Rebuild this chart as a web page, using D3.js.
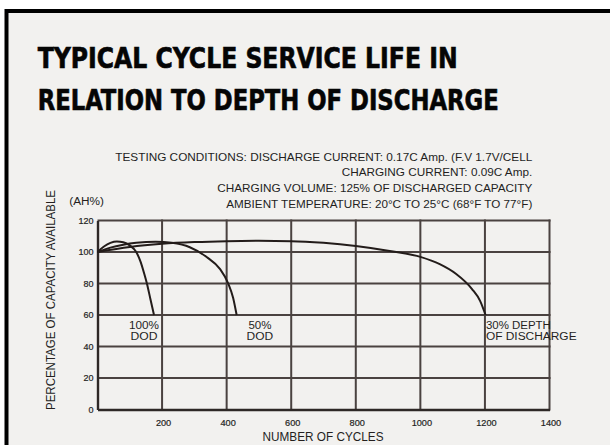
<!DOCTYPE html>
<html>
<head>
<meta charset="utf-8">
<script src="https://cdn.jsdelivr.net/npm/d3@7/dist/d3.min.js"></script>
<style>
  html, body { margin: 0; padding: 0; background: #ffffff; }
  svg { display: block; }
</style>
</head>
<body>
<svg id="chart" width="610" height="445"></svg>
<script>
// ---------- data ----------
const titleLines = ["TYPICAL CYCLE SERVICE LIFE IN", "RELATION TO DEPTH OF DISCHARGE"];
const conditionLines = [
  "TESTING CONDITIONS: DISCHARGE CURRENT: 0.17C Amp. (F.V 1.7V/CELL",
  "CHARGING CURRENT: 0.09C Amp.",
  "CHARGING VOLUME: 125% OF DISCHARGED CAPACITY",
  "AMBIENT TEMPERATURE: 20°C TO 25°C (68°F TO 77°F)"
];
const xTicks = [200, 400, 600, 800, 1000, 1200, 1400];
const yTicks = [0, 20, 40, 60, 80, 100, 120];
const yUnit = "(AH%)";
const yTitle = "PERCENTAGE OF CAPACITY AVAILABLE";
const xTitle = "NUMBER OF CYCLES";

const dod100 = [[0,100],[20,103.5],[40,105.8],[60,106.7],[80,106.2],[100,104.2],[120,100],[133,94],[145,86],[153,80],[164,70],[175,60]];
const dod50  = [[0,100],[40,102.8],[80,104.6],[120,105.8],[180,106.5],[230,105.8],[286,103],[338,96.8],[379,89.3],[405,80],[420,71],[431,60]];
const dod30  = [[0,100],[100,103.2],[200,105.2],[300,106.3],[400,106.9],[500,107.1],[600,106.9],[700,105.8],[800,103.8],[900,100.8],[1000,96.9],[1060,92.3],[1110,86.2],[1160,76.5],[1185,69],[1202,60]];
const seriesLabels = [["100%", "DOD"], ["50%", "DOD"], ["30% DEPTH", "OF DISCHARGE"]];

// ---------- drawing ----------
const svg = d3.select("#chart");
const W = 610, H = 445;

// outer panel
svg.append("rect").attr("x", 0).attr("y", 0).attr("width", W).attr("height", H).attr("fill", "#ffffff");
svg.append("rect").attr("x", 4.5).attr("y", 9).attr("width", W - 4.5).attr("height", H - 9).attr("fill", "#000");
svg.append("rect").attr("x", 8.5).attr("y", 13).attr("width", W - 8.5).attr("height", H - 13).attr("fill", "#f2f1ef");

// title
const tFont = "'Liberation Sans Narrow','DejaVu Sans Condensed','Arial Narrow',sans-serif";
const titleWidths = [420, 461];
const titleBase = [68, 109.7];
titleLines.forEach((t, i) => {
  svg.append("text")
    .attr("x", 37.7).attr("y", titleBase[i])
    .attr("font-family", tFont).attr("font-weight", "bold").attr("font-size", 29)
    .attr("fill", "#050505").attr("stroke", "#050505").attr("stroke-width", 0.6)
    .attr("textLength", titleWidths[i]).attr("lengthAdjust", "spacingAndGlyphs")
    .text(t);
});

// scales
const xS = d3.scaleLinear().domain([0, 1400]).range([97.5, 549.5]);
const yS = d3.scaleLinear().domain([0, 120]).range([409.5, 220.5]);

const textCol = "#241f1e";
const sFont = "'Liberation Sans','Arial',sans-serif";

// testing conditions
const condWidths = [417, 190.6, 315, 306];
const condBase = [160.5, 176, 192, 208];
conditionLines.forEach((t, i) => {
  svg.append("text")
    .attr("x", 532.3).attr("y", condBase[i]).attr("text-anchor", "end")
    .attr("font-family", sFont).attr("font-size", 11.5).attr("fill", textCol)
    .attr("textLength", condWidths[i]).attr("lengthAdjust", "spacingAndGlyphs")
    .text(t);
});

// gridlines drawn as thin filled rects
const gridCol = "#4a4240";
const gw = 2;
const grid = svg.append("g");
grid.selectAll("rect.vg").data(xTicks).enter().append("rect").attr("class", "vg")
  .attr("x", d => xS(d) - gw / 2).attr("y", yS(120) - gw / 2)
  .attr("width", gw).attr("height", yS(0) - yS(120) + gw)
  .attr("fill", gridCol);
grid.selectAll("rect.hg").data(yTicks.filter(v => v > 0)).enter().append("rect").attr("class", "hg")
  .attr("x", xS(0)).attr("y", d => yS(d) - gw / 2)
  .attr("width", xS(1400) - xS(0) + gw / 2).attr("height", gw)
  .attr("fill", gridCol);

// axes
const yAxis = d3.axisLeft(yS).tickValues(yTicks).tickSize(0).tickPadding(4).tickFormat(d3.format("d"));
const yA = svg.append("g").attr("transform", `translate(${xS(0)},0)`).call(yAxis);
yA.select(".domain").attr("stroke", "#2e2826").attr("stroke-width", 2.4);
yA.selectAll("text").attr("font-family", sFont).attr("font-size", 9).attr("fill", textCol)
  .attr("stroke", textCol).attr("stroke-width", 0.2);

const xAxis = d3.axisBottom(xS).tickValues(xTicks).tickSize(0).tickPadding(9.5).tickFormat(d3.format("d"));
const xA = svg.append("g").attr("transform", `translate(0,${yS(0)})`).call(xAxis);
xA.select(".domain").attr("stroke", "#2e2826").attr("stroke-width", 2.4);
xA.selectAll("text").attr("font-family", sFont).attr("font-size", 9.2).attr("fill", textCol)
  .attr("stroke", textCol).attr("stroke-width", 0.2).attr("dx", 1);

// axis titles
svg.append("text").attr("x", 69.3).attr("y", 205)
  .attr("font-family", sFont).attr("font-size", 10).attr("fill", textCol)
  .attr("textLength", 34.7).attr("lengthAdjust", "spacingAndGlyphs").text(yUnit);

svg.append("text")
  .attr("transform", "translate(55,410) rotate(-90)")
  .attr("font-family", sFont).attr("font-size", 13).attr("fill", textCol)
  .attr("textLength", 220).attr("lengthAdjust", "spacingAndGlyphs").text(yTitle);

svg.append("text").attr("x", 323).attr("y", 440.5).attr("text-anchor", "middle")
  .attr("font-family", sFont).attr("font-size", 13).attr("fill", textCol)
  .attr("textLength", 121).attr("lengthAdjust", "spacingAndGlyphs").text(xTitle);

// curves
const lineGen = d3.line().x(d => xS(d[0])).y(d => yS(d[1])).curve(d3.curveMonotoneX);
[dod100, dod50, dod30].forEach(s => {
  svg.append("path").datum(s).attr("d", lineGen)
    .attr("fill", "none").attr("stroke", "#231c1a").attr("stroke-width", 2);
});

// curve labels (anchored in data units)
const labelPos = [
  {cx: 144, v: 50.8, anchor: "middle", w: [30, 27]},
  {cx: 503, v: 50.8, anchor: "middle", w: [23, 26.6]},
  {cx: 1203, v: 50.8, anchor: "start", w: [65, 90.7]}
];
seriesLabels.forEach((lines, i) => {
  const p = labelPos[i];
  lines.forEach((ln, j) => {
    svg.append("text")
      .attr("x", xS(p.cx)).attr("y", yS(p.v) + j * 10.5)
      .attr("font-family", sFont).attr("font-size", 10).attr("fill", textCol)
      .attr("text-anchor", p.anchor)
      .attr("textLength", p.w[j]).attr("lengthAdjust", "spacingAndGlyphs")
      .text(ln);
  });
});
</script>
</body>
</html>
